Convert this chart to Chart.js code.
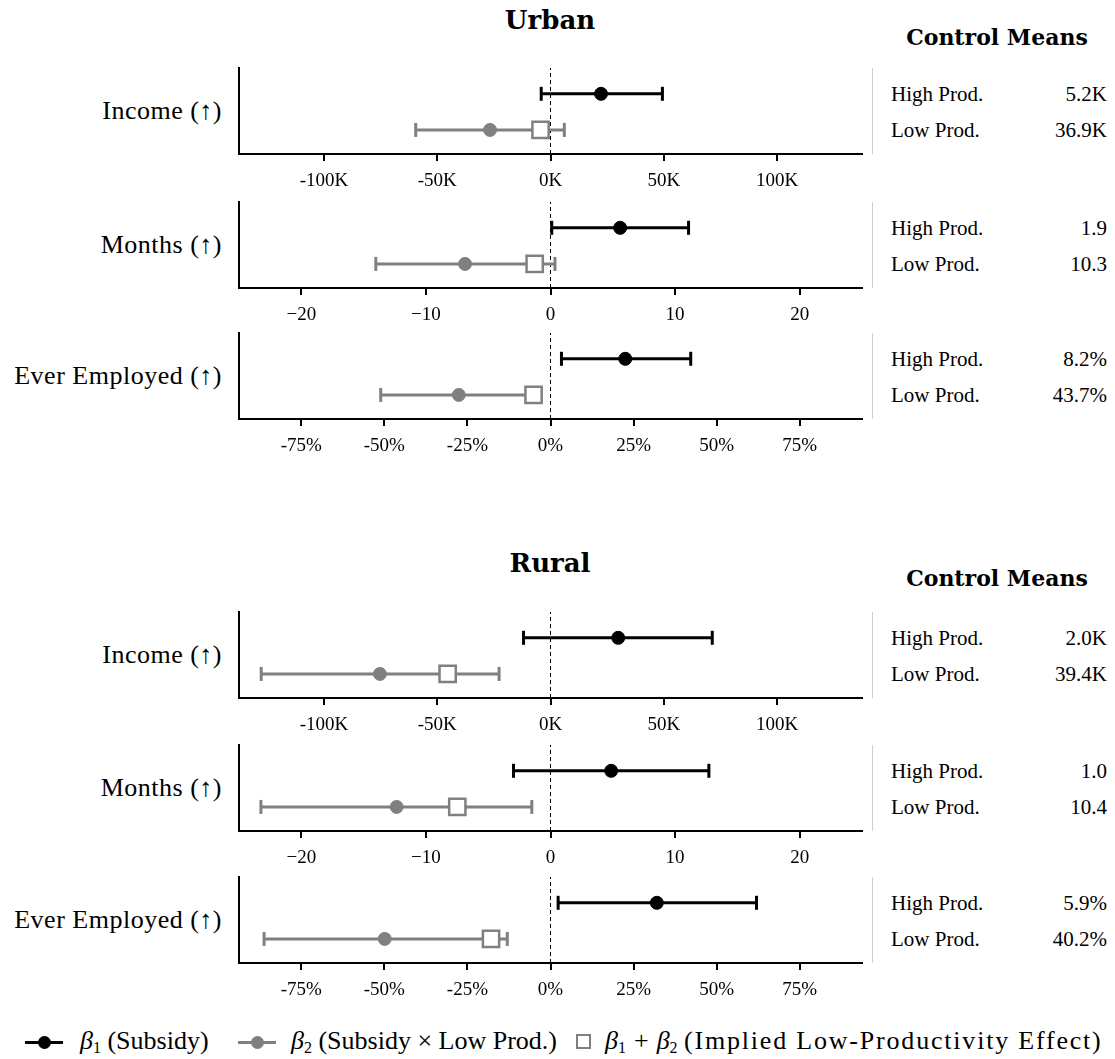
<!DOCTYPE html>
<html>
<head>
<meta charset="utf-8">
<script src="https://cdn.jsdelivr.net/npm/chart.js@4.4.1/dist/chart.umd.min.js"></script>
<style>
  body { margin: 0; background: #fff; }
  #page { position: relative; width: 1115px; height: 1059px; overflow: hidden;
          font-family: 'Liberation Serif', 'DejaVu Serif', serif; color: #000; }
  .abs { position: absolute; white-space: nowrap; line-height: 1; }
  .title { font-family: 'DejaVu Serif', serif; font-weight: bold; font-size: 26px; transform: translate(-50%, -50%); }
  .cm-head { font-family: 'DejaVu Serif', serif; font-weight: bold; font-size: 22px; transform: translate(-50%, -50%); }
  .rowlab { font-size: 26px; letter-spacing: 0.5px; transform: translate(-100%, -50%); }
  .cm { font-size: 21px; transform: translateY(-50%); }
  .cmv { font-size: 21px; transform: translate(-100%, -50%); }
  .vline { position: absolute; width: 1px; background: #cfcfcf; }
  .leg { font-size: 26px; transform: translateY(-50%); }
  .leg sub { font-size: 16px; vertical-align: -4px; }
  .leg .op { margin: 0 8px; }
  .leg .wide { letter-spacing: 1.8px; }
</style>
</head>
<body>
<div id="page"></div>
<script>
// ---- data -------------------------------------------------------------
const outcomes = ['Income (\u2191)', 'Months (\u2191)', 'Ever Employed (\u2191)'];
const groups = ['Urban', 'Rural'];

// tick labels per outcome
const incomeTicks   = [-100, -50, 0, 50, 100];
const monthsTicks   = [-20, -10, 0, 10, 20];
const employedTicks = [-75, -50, -25, 0, 25, 50, 75];

// Urban estimates (income in thousands, months, employment in %)
const urbanB1   = [22.3, 5.59, 22.5];
const urbanB1Lo = [-4.1, 0.1, 3.3];
const urbanB1Hi = [49.4, 11.08, 42.2];
const urbanB2   = [-26.7, -6.86, -27.6];
const urbanB2Lo = [-59.5, -14.02, -51.1];
const urbanB2Hi = [6.1, 0.36, -4.1];
const urbanSum  = [-4.4, -1.27, -5.1];

// Rural estimates
const ruralB1   = [29.9, 4.87, 32.0];
const ruralB1Lo = [-11.9, -2.97, 2.3];
const ruralB1Hi = [71.4, 12.71, 62.0];
const ruralB2   = [-75.3, -12.35, -49.9];
const ruralB2Lo = [-127.7, -23.24, -86.2];
const ruralB2Hi = [-22.7, -1.5, -13.0];
const ruralSum  = [-45.4, -7.48, -17.9];

// Control means
const urbanHigh = ['5.2K', '1.9', '8.2%'];
const urbanLow  = ['36.9K', '10.3', '43.7%'];
const ruralHigh = ['2.0K', '1.0', '5.9%'];
const ruralLow  = ['39.4K', '10.4', '40.2%'];

// ---- layout -----------------------------------------------------------
const FONT = "'Liberation Serif', 'DejaVu Serif', serif";
const BLACK = '#000000';
const GRAY = '#808080';
const PLOT_LEFT = 239, PLOT_RIGHT = 862, PLOT_H = 86;
const PAD = 10, AXIS_H = 42;
const ROW1 = 0.70, ROW2 = 0.28;
const panelTops = { Urban: [68, 202, 333], Rural: [612, 745, 877] };
const titleY = { Urban: 20, Rural: 563 };
const headY = { Urban: 37, Rural: 578 };

const ranges = [137.5, 25, 93.75];
const tickSets = [incomeTicks, monthsTicks, employedTicks];
const formats = [
  v => v + 'K',
  v => (v < 0 ? '\u2212' + Math.abs(v) : String(v)),
  v => v + '%'
];

const page = document.getElementById('page');
function addText(cls, html, x, y) {
  const d = document.createElement('div');
  d.className = 'abs ' + cls;
  d.innerHTML = html;
  d.style.left = x + 'px';
  d.style.top = y + 'px';
  page.appendChild(d);
  return d;
}

function pt(x, y) { return { x: x, y: y }; }

function makePanel(group, i) {
  const isUrban = group === 'Urban';
  const b1 = isUrban ? urbanB1 : ruralB1, b1Lo = isUrban ? urbanB1Lo : ruralB1Lo, b1Hi = isUrban ? urbanB1Hi : ruralB1Hi;
  const b2 = isUrban ? urbanB2 : ruralB2, b2Lo = isUrban ? urbanB2Lo : ruralB2Lo, b2Hi = isUrban ? urbanB2Hi : ruralB2Hi;
  const sum = isUrban ? urbanSum : ruralSum;
  const hi = isUrban ? urbanHigh : ruralHigh, lo = isUrban ? urbanLow : ruralLow;
  const top = panelTops[group][i];

  const wrap = document.createElement('div');
  wrap.style.position = 'absolute';
  wrap.style.left = (PLOT_LEFT - PAD) + 'px';
  wrap.style.top = (top - PAD) + 'px';
  const cw = PLOT_RIGHT - PLOT_LEFT + 2 * PAD, ch = PLOT_H + PAD + AXIS_H;
  const canvas = document.createElement('canvas');
  canvas.width = cw; canvas.height = ch;
  canvas.style.width = cw + 'px'; canvas.style.height = ch + 'px';
  wrap.appendChild(canvas);
  page.appendChild(wrap);

  const R = ranges[i];
  const ticks = tickSets[i];
  const fmt = formats[i];

  new Chart(canvas, {
    type: 'scatter',
    data: {
      datasets: [
        { // zero reference line
          data: [pt(0, 0), pt(0, 1)], showLine: true, borderColor: BLACK, borderWidth: 1,
          borderDash: [4, 3], pointRadius: 0, order: 6
        },
        { // beta1 interval
          data: [pt(b1Lo[i], ROW1), pt(b1Hi[i], ROW1)], showLine: true, borderColor: BLACK, borderWidth: 3,
          pointStyle: 'line', rotation: 90, pointRadius: 7, pointBorderWidth: 3, pointBorderColor: BLACK, order: 5
        },
        { // beta2 interval
          data: [pt(b2Lo[i], ROW2), pt(b2Hi[i], ROW2)], showLine: true, borderColor: GRAY, borderWidth: 3,
          pointStyle: 'line', rotation: 90, pointRadius: 7, pointBorderWidth: 3, pointBorderColor: GRAY, order: 4
        },
        { // beta1 point
          data: [pt(b1[i], ROW1)], pointStyle: 'circle', pointRadius: 6.5,
          pointBackgroundColor: BLACK, pointBorderColor: BLACK, pointBorderWidth: 1, order: 3
        },
        { // beta2 point
          data: [pt(b2[i], ROW2)], pointStyle: 'circle', pointRadius: 6.5,
          pointBackgroundColor: GRAY, pointBorderColor: GRAY, pointBorderWidth: 1, order: 2
        },
        { // beta1 + beta2
          data: [pt(sum[i], ROW2)], pointStyle: 'rect', pointRadius: 11.5,
          pointBackgroundColor: '#ffffff', pointBorderColor: GRAY, pointBorderWidth: 2.5, order: 1
        }
      ]
    },
    options: {
      responsive: false,
      animation: false,
      events: [],
      plugins: { legend: { display: false }, tooltip: { enabled: false } },
      layout: { autoPadding: false, padding: { left: PAD, right: PAD, top: PAD, bottom: 0 } },
      scales: {
        x: {
          type: 'linear', min: -R, max: R,
          afterFit: a => { a.height = AXIS_H; },
          afterBuildTicks: a => { a.ticks = ticks.map(v => ({ value: v })); },
          grid: { display: true, drawOnChartArea: false, drawTicks: true, tickLength: 7, color: BLACK, lineWidth: 2 },
          border: { display: true, color: BLACK, width: 2 },
          ticks: { font: { family: FONT, size: 19 }, color: BLACK, padding: 9, maxRotation: 0,
                   autoSkip: false, callback: v => fmt(v) }
        },
        y: {
          type: 'linear', min: 0, max: 1,
          afterFit: a => { a.width = 0; },
          ticks: { display: false },
          grid: { display: false },
          border: { display: true, color: BLACK, width: 2 }
        }
      }
    }
  });

  // row label on the left
  addText('rowlab', outcomes[i], 222, top + PLOT_H / 2);

  // control means column
  const vl = document.createElement('div');
  vl.className = 'vline';
  vl.style.left = '872px'; vl.style.top = top + 'px'; vl.style.height = PLOT_H + 'px';
  page.appendChild(vl);
  addText('cm', 'High Prod.', 891, top + 26);
  addText('cmv', hi[i], 1107, top + 26);
  addText('cm', 'Low Prod.', 891, top + 62);
  addText('cmv', lo[i], 1107, top + 62);
}

groups.forEach(g => {
  addText('title', g, 550, titleY[g]);
  addText('cm-head', 'Control Means', 997, headY[g]);
  outcomes.forEach((_, i) => makePanel(g, i));
});

// ---- legend -----------------------------------------------------------
const LEG_Y = 1042;
function legLine(x0, x1, color) {
  const d = document.createElement('div');
  d.style.cssText = `position:absolute;left:${x0}px;top:${LEG_Y - 1.5}px;width:${x1 - x0}px;height:3px;background:${color}`;
  page.appendChild(d);
  const c = document.createElement('div');
  const cx = (x0 + x1) / 2;
  c.style.cssText = `position:absolute;left:${cx - 6.5}px;top:${LEG_Y - 6.5}px;width:13px;height:13px;border-radius:50%;background:${color}`;
  page.appendChild(c);
}
legLine(25, 63, BLACK);
addText('leg', '<i>\u03B2</i><sub>1</sub> (Subsidy)', 80, LEG_Y);
legLine(238, 276, GRAY);
addText('leg', '<i>\u03B2</i><sub>2</sub> (Subsidy \u00D7 Low Prod.)', 291, LEG_Y);
const sq = document.createElement('div');
sq.style.cssText = `position:absolute;left:${584 - 8}px;top:${LEG_Y - 8}px;width:11px;height:11px;border:2.5px solid ${GRAY};background:#fff`;
page.appendChild(sq);
addText('leg', '<i>\u03B2</i><sub>1</sub><span class="op">+</span><i>\u03B2</i><sub>2</sub> <span class="wide">(Implied Low-Productivity Effect)</span>', 605, LEG_Y);
</script>
</body>
</html>
